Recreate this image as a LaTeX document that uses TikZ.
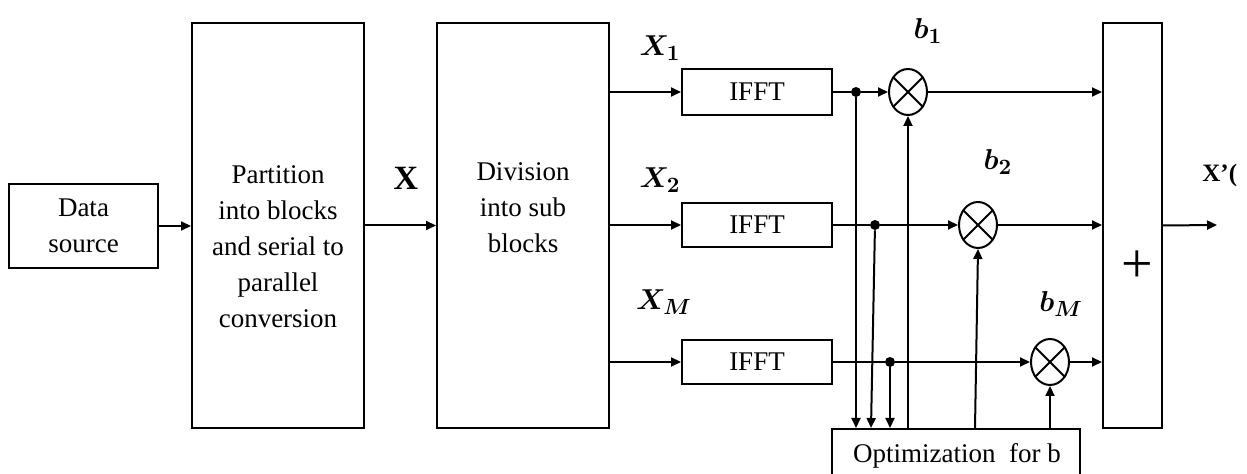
\documentclass[tikz,border=0pt]{standalone}
\usepackage{fontspec}
\usepackage{amsmath}
\setmainfont{Liberation Serif}
\usetikzlibrary{arrows.meta,shapes.geometric}

\tikzset{
  blk/.style={draw, line width=1pt, inner sep=0pt},
  mult/.style={draw, ellipse, line width=1pt, minimum width=19pt, minimum height=23pt, inner sep=0pt},
  jn/.style={circle, fill, inner sep=0pt, minimum size=5pt},
  sig/.style={line width=1pt, -{Triangle[length=5pt,width=4.5pt]}},
  wire/.style={line width=1pt},
  sym/.style={font=\fontsize{15}{18}\selectfont},
}

\begin{document}
\begin{tikzpicture}[x=0.5pt, y=-0.5pt, font=\fontsize{13.5}{18}\selectfont]
  \clip (0,0) rectangle (1247,474);
  % main blocks
  \node[blk, minimum width=74.5pt, minimum height=42pt, align=center] (src) at (83.5,226) {Data\\source};
  \node[blk, minimum width=86pt, minimum height=202.5pt] (part) at (278,225.5) {};
  \node[align=center] (parttxt) at (278,247) {Partition\\into blocks\\and serial to\\parallel\\conversion};
  \node[blk, minimum width=86pt, minimum height=202.5pt] (div) at (523,225.5) {};
  \node[align=center] (divtxt) at (523,208) {Division\\into sub\\blocks};
  \node[blk, minimum width=29.5pt, minimum height=202.5pt] (sum) at (1132.5,225.5) {};
  \node[font=\fontsize{28}{30}\selectfont] (plus) at (1137,267) {+};
  \node[blk, minimum width=124pt, minimum height=40pt, anchor=north] (opt) at (956,428) {};
  \node (opttxt) at (957,456) {Optimization\ \ for b};
  % IFFT branches
  \node[blk, minimum width=75pt, minimum height=23pt] (ifft1) at (757,92) {IFFT};
  \node[blk, minimum width=75pt, minimum height=22pt] (ifft2) at (757,225) {IFFT};
  \node[blk, minimum width=75pt, minimum height=22pt] (ifft3) at (757,362) {IFFT};
  \node[jn] (d1) at (856,92) {};
  \node[jn] (d2) at (875,225) {};
  \node[jn] (d3) at (890,362) {};
  \node[mult] (m1) at (908,92) {};
  \node[mult] (m2) at (978,225) {};
  \node[mult] (m3) at (1050,362) {};
  \foreach \i in {1,2,3} {
    \draw[wire] (m\i.45) -- (m\i.225) (m\i.135) -- (m\i.315);
    \draw[sig] (div.east |- ifft\i) -- (ifft\i.west);
    \draw[wire] (ifft\i.east) -- (d\i);
    \draw[sig] (d\i) -- (m\i.west);
    \draw[sig] (m\i.east) -- (m\i.east -| sum.west);
  }
  \coordinate (o2) at (871,428);
  \coordinate (u2) at (975,428);
  \coordinate (out) at (1217,225);
  % connectors
  \draw[sig] (src.east) -- (src.east -| part.west);
  \draw[sig] (part.east) -- (div.west);
  \draw[sig] (d1) -- (d1 |- opt.north);
  \draw[sig] (d2) -- (o2);
  \draw[sig] (d3) -- (d3 |- opt.north);
  \draw[sig] (m1.south |- opt.north) -- (m1.south);
  \draw[sig] (u2) -- (m2.south);
  \draw[sig] (m3.south |- opt.north) -- (m3.south);
  \draw[sig] (sum.east) -- (out);
  % labels
  \node[font=\fontsize{17}{18}\selectfont\bfseries] (xlbl) at (406,178) {X};
  \node[sym] (x1) at (660,48) {$\boldsymbol{X_1}$};
  \node[sym] (x2) at (660,180) {$\boldsymbol{X_2}$};
  \node[sym] (xm) at (664,302) {$\boldsymbol{X_M}$};
  \node[sym] (b1) at (928,31) {$\boldsymbol{b_1}$};
  \node[sym] (b2) at (998,162) {$\boldsymbol{b_2}$};
  \node[sym] (bm) at (1061,304) {$\boldsymbol{b_M}$};
  \node[font=\fontsize{12.5}{14}\selectfont\bfseries, anchor=west, inner sep=0pt] (xout) at (1202,175) {X’(};
\end{tikzpicture}
\end{document}
